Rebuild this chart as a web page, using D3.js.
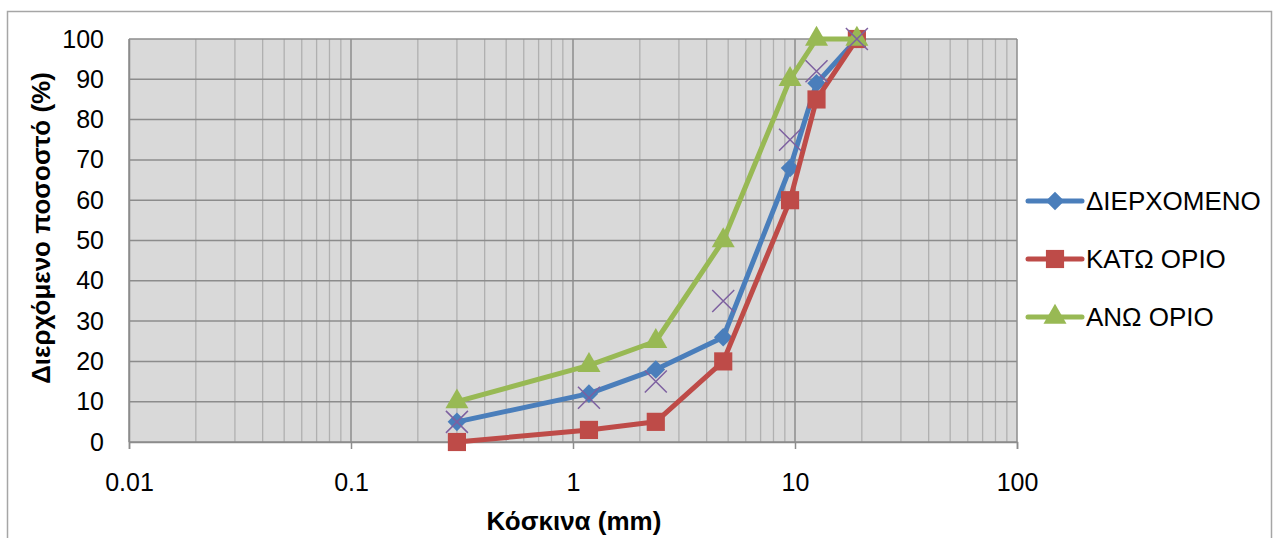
<!DOCTYPE html>
<html>
<head>
<meta charset="utf-8">
<script src="https://cdn.jsdelivr.net/npm/d3@7"></script>
<style>
  html, body { margin: 0; padding: 0; background: #fff; }
  svg { display: block; font-family: "Liberation Sans", Arial, sans-serif; }
</style>
</head>
<body>
<svg id="chart" width="1277" height="538"></svg>
<script>
// Sieve sizes (mm)
const sieves = [0.3, 1.18, 2.36, 4.75, 9.5, 12.5, 19];
// Percent passing
const passing = [5, 12, 18, 26, 68, 89, 100];
const lowerLimit = [0, 3, 5, 20, 60, 85, 100];
const upperLimit = [10, 19, 25, 50, 90, 100, 100];
const extraPoints = [5, 11, 15, 35, 75, 92, 100];

const seriesNames = ["ΔΙΕΡΧΟΜΕΝΟ", "ΚΑΤΩ ΟΡΙΟ", "ΑΝΩ ΟΡΙΟ"];
const xTicks = [0.01, 0.1, 1, 10, 100];
const yTicks = [0, 10, 20, 30, 40, 50, 60, 70, 80, 90, 100];
const xTitle = "Κόσκινα (mm)";
const yTitle = "Διερχόμενο ποσοστό (%)";

const svg = d3.select("#chart");
const plot = { left: 129, top: 39, right: 1017, bottom: 442 };

// outer frame
svg.append("rect").attr("x", 7.5).attr("y", 11.5).attr("width", 1264).attr("height", 540)
  .attr("fill", "#fff").attr("stroke", "#a6a6a6").attr("stroke-width", 1.5);

const x = d3.scaleLog().domain([0.01, 100]).range([plot.left, plot.right]);
const y = d3.scaleLinear().domain([0, 100]).range([plot.bottom, plot.top]);

// plot background
svg.append("rect").attr("x", plot.left).attr("y", plot.top)
  .attr("width", plot.right - plot.left).attr("height", plot.bottom - plot.top)
  .attr("fill", "#d9d9d9");

// minor vertical gridlines
const minor = [];
for (let d = 0; d < xTicks.length - 1; d++) {
  for (let k = 2; k <= 9; k++) minor.push(xTicks[d] * k);
}
svg.append("g").selectAll("line").data(minor).join("line")
  .attr("x1", d => x(d)).attr("x2", d => x(d))
  .attr("y1", plot.top).attr("y2", plot.bottom)
  .attr("stroke", "#b0b0b0").attr("stroke-width", 1.3);

// major vertical gridlines
svg.append("g").selectAll("line").data(xTicks).join("line")
  .attr("x1", d => x(d)).attr("x2", d => x(d))
  .attr("y1", plot.top).attr("y2", plot.bottom)
  .attr("stroke", "#8c8c8c").attr("stroke-width", 1.5);

// horizontal gridlines
svg.append("g").selectAll("line").data(yTicks).join("line")
  .attr("x1", plot.left).attr("x2", plot.right)
  .attr("y1", d => y(d)).attr("y2", d => y(d))
  .attr("stroke", "#8c8c8c").attr("stroke-width", 1.5);

// axes
const xAxis = svg.append("g").attr("transform", `translate(0,${plot.bottom})`)
  .call(d3.axisBottom(x).tickValues(xTicks).tickFormat(d => String(d)).tickSize(7).tickPadding(24));
const yAxis = svg.append("g").attr("transform", `translate(${plot.left},0)`)
  .call(d3.axisLeft(y).tickValues(yTicks).tickSize(0).tickPadding(25));
[xAxis, yAxis].forEach(g => {
  g.select(".domain").attr("stroke", "#8c8c8c").attr("stroke-width", 1.5);
  g.selectAll(".tick line").attr("stroke", "#8c8c8c").attr("stroke-width", 1.5);
  g.selectAll("text").attr("font-size", 25).attr("fill", "#000")
    .attr("font-family", "'Liberation Sans', Arial, sans-serif");
});

// axis titles
svg.append("text").attr("x", 574).attr("y", 530)
  .attr("text-anchor", "middle").attr("font-size", 26).attr("font-weight", "bold")
  .text(xTitle);
svg.append("text").attr("transform", `translate(50,228) rotate(-90)`)
  .attr("text-anchor", "middle").attr("font-size", 26).attr("font-weight", "bold")
  .text(yTitle);

const colors = ["#4a7ebb", "#be4b48", "#98b954"];
const symbols = [
  d3.symbol().type(d3.symbolDiamond2).size(220),
  d3.symbol().type(d3.symbolSquare).size(330),
  d3.symbol().type(d3.symbolTriangle).size(230)
];
const data = [passing, lowerLimit, upperLimit];

const line = d3.line().x(d => x(d[0])).y(d => y(d[1]));

data.forEach((vals, i) => {
  const pts = sieves.map((s, j) => [s, vals[j]]);
  const g = svg.append("g");
  g.append("path").datum(pts).attr("d", line)
    .attr("fill", "none").attr("stroke", colors[i]).attr("stroke-width", 5)
    .attr("stroke-linejoin", "round");
  g.selectAll("path.m").data(pts).join("path").attr("class", "m")
    .attr("transform", d => `translate(${x(d[0])},${y(d[1])})`)
    .attr("d", symbols[i]).attr("fill", colors[i]);
});

// unlinked cross markers
const cross = 11;
svg.append("g").selectAll("path").data(sieves.map((s, j) => [s, extraPoints[j]])).join("path")
  .attr("transform", d => `translate(${x(d[0])},${y(d[1])})`)
  .attr("d", `M${-cross},${-cross}L${cross},${cross}M${-cross},${cross}L${cross},${-cross}`)
  .attr("stroke", "#7d60a0").attr("stroke-width", 1.5).attr("fill", "none");

// legend
const legend = svg.append("g");
const legY = [201, 259, 317];
seriesNames.forEach((name, i) => {
  const g = legend.append("g").attr("transform", `translate(0,${legY[i]})`);
  g.append("line").attr("x1", 1028).attr("x2", 1082).attr("y1", 0).attr("y2", 0)
    .attr("stroke", colors[i]).attr("stroke-width", 5).attr("stroke-linecap", "round");
  g.append("path").attr("transform", "translate(1055,0)").attr("d", symbols[i]).attr("fill", colors[i]);
  g.append("text").attr("x", 1086).attr("y", 0).attr("dy", "0.36em")
    .attr("font-size", 26).text(name);
});
</script>
</body>
</html>
